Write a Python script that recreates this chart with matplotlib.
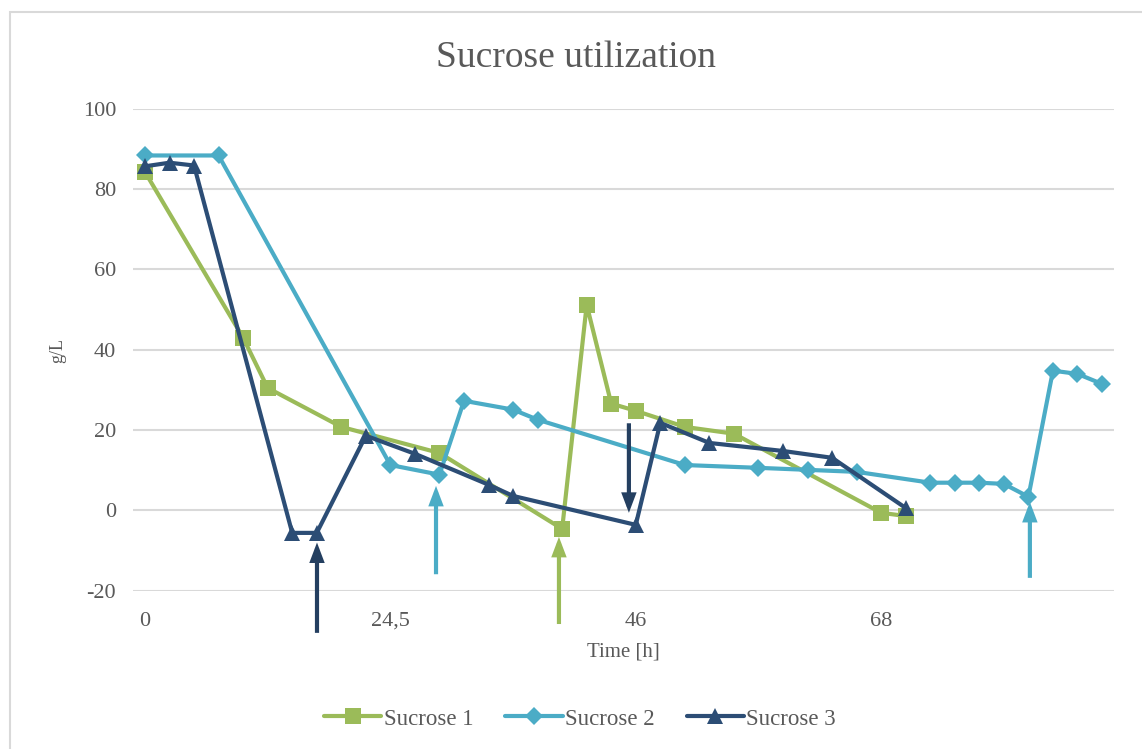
import matplotlib
matplotlib.use("Agg")
import matplotlib.pyplot as plt
from matplotlib.patches import Rectangle

plt.rcParams['font.family'] = ['Liberation Serif', 'DejaVu Serif']
plt.rcParams['axes.unicode_minus'] = False

# x axis is categorical: one slot per sampling point, label every 10th slot
n_slots = 40
tick_pos = [0, 10, 20, 30]
tick_labels = ["0", "24,5", "46", "68"]

s1_idx = [0, 4, 5, 8, 12, 17, 18, 19, 20, 22, 24, 30, 31]
s1_val = [84.3, 43.0, 30.5, 20.8, 14.3, -4.6, 51.2, 26.6, 24.8, 20.8, 19.1, -0.6, -1.4]

s2_idx = [0, 3, 10, 12, 13, 15, 16, 22, 25, 27, 29, 32, 33, 34, 35, 36, 37, 38, 39]
s2_val = [88.4, 88.4, 11.3, 8.9, 27.3, 25.1, 22.6, 11.3, 10.6, 10.1, 9.6,
          6.9, 6.9, 6.9, 6.6, 3.4, 34.8, 34.0, 31.5]

s3_idx = [0, 1, 2, 6, 7, 9, 11, 14, 15, 20, 21, 23, 26, 28, 31]
s3_val = [85.7, 86.6, 85.9, -5.6, -5.6, 18.6, 14.1, 6.4, 3.6, -3.6, 21.8, 16.8, 14.8, 13.1, 0.6]

# feeding arrows: (slot, tail, tip, colour)
arrows = [
    (7.01, -30.5, -8.0, "#243F60"),
    (11.86, -15.9, 6.1, "#4BACC6"),
    (16.87, -28.3, -6.6, "#9BBB59"),
    (19.72, 21.7, -0.6, "#243F60"),
    (36.06, -16.8, 2.1, "#4BACC6"),
]

GREEN = "#9BBB59"
CYAN = "#4BACC6"
NAVY = "#2C4D75"
GRID = "#D9D9D9"
TXT = "#595959"

fig = plt.figure(figsize=(11.42, 7.49), dpi=100)
ax = fig.add_axes([132.7 / 1142, 1 - 590.7 / 749, (1114.3 - 132.7) / 1142, (590.7 - 108.9) / 749])

# outer chart border
fig.patches.append(Rectangle((9.5 / 1142, -0.1), 1.2, 1.1 - 12.5 / 749, fill=False,
                             edgecolor=GRID, lw=1.5, transform=fig.transFigure))

common = dict(lw=3, solid_joinstyle='round', solid_capstyle='round', markeredgewidth=0)
ax.plot(s1_idx, s1_val, color=GREEN, marker='s', markersize=11, label="Sucrose 1", zorder=3, **common)
ax.plot(s2_idx, s2_val, color=CYAN, marker='D', markersize=9, label="Sucrose 2", zorder=4, **common)
ax.plot(s3_idx, s3_val, color=NAVY, marker='^', markersize=12, label="Sucrose 3", zorder=5, **common)

for x, y0, y1, c in arrows:
    ax.annotate("", xy=(x, y1), xytext=(x, y0), annotation_clip=False,
                arrowprops=dict(arrowstyle="-|>,head_length=0.45,head_width=0.17",
                                mutation_scale=20, lw=3, color=c,
                                joinstyle='miter', capstyle='butt',
                                shrinkA=0, shrinkB=0),
                zorder=6)

ax.set_xlim(-0.5, n_slots - 0.5)
ax.set_ylim(-20, 100)
ax.set_yticks(range(-20, 101, 20))
ax.set_xticks(tick_pos)
ax.set_xticklabels(tick_labels)
ax.grid(axis='y', color=GRID, lw=1.5)
ax.set_axisbelow(True)
for s in ax.spines.values():
    s.set_visible(False)
ax.tick_params(axis='both', length=0, labelsize=16, colors=TXT)
ax.tick_params(axis='y', pad=12)
ax.tick_params(axis='x', pad=15)

fig.text(576.5 / 1142, 1 - 58 / 749, "Sucrose utilization", fontsize=27, color=TXT,
         ha='center', va='center')
fig.text(623 / 1142, 1 - 652 / 749, "Time [h]", fontsize=15, color=TXT,
         ha='center', va='center')
fig.text(58 / 1142, 1 - 350 / 749, "g/L", fontsize=13, color=TXT,
         ha='center', va='center', rotation=90)

leg = fig.legend(loc='center', bbox_to_anchor=(580 / 1142, 1 - 719 / 749), ncol=3,
                 frameon=False, fontsize=16.5, handlelength=2.5, handletextpad=0.1,
                 columnspacing=1.4, labelcolor=TXT)

fig.savefig("out.png", dpi=100)
